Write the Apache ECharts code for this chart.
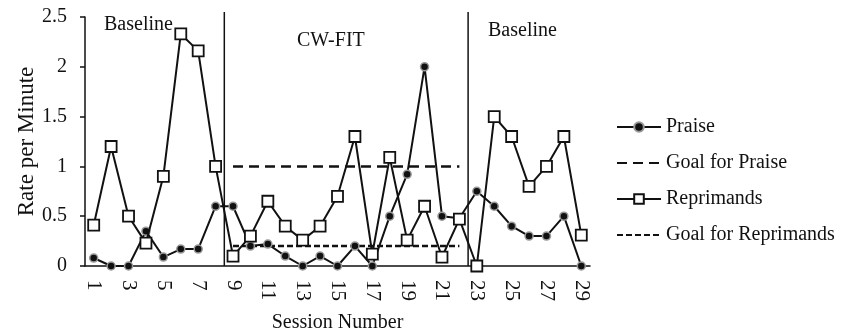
<!DOCTYPE html>
<html>
<head>
<meta charset="utf-8">
<script src="https://cdn.jsdelivr.net/npm/echarts@6/dist/echarts.min.js"></script>
<style>
  html, body { margin: 0; padding: 0; background: #fff; }
  #rateChart { width: 853px; height: 333px; }
</style>
</head>
<body>
<div id="rateChart"></div>
<script>
// sessions 1..29
var sessions = [];
for (var i = 1; i <= 29; i++) sessions.push(String(i));

var praise = [0.08, 0, 0, 0.35, 0.09, 0.17, 0.17, 0.6,
  0.6, 0.2, 0.22, 0.1, 0, 0.1, 0, 0.2, 0, 0.5, 0.92, 2.0, 0.5, 0.48,
  0.75, 0.6, 0.4, 0.3, 0.3, 0.5, 0];
var reprimands = [0.41, 1.2, 0.5, 0.23, 0.9, 2.33, 2.16, 1.0,
  0.1, 0.3, 0.65, 0.4, 0.26, 0.4, 0.7, 1.3, 0.12, 1.09, 0.26, 0.6, 0.09, 0.47,
  0, 1.5, 1.3, 0.8, 1.0, 1.3, 0.31];
// goals only during CW-FIT (sessions 9-22)
var goalPraise = [null, null, null, null, null, null, null, null,
  1, 1, 1, 1, 1, 1, 1, 1, 1, 1, 1, 1, 1, 1,
  null, null, null, null, null, null, null];
var goalReprimands = [null, null, null, null, null, null, null, null,
  0.2, 0.2, 0.2, 0.2, 0.2, 0.2, 0.2, 0.2, 0.2, 0.2, 0.2, 0.2, 0.2, 0.2,
  null, null, null, null, null, null, null];
var phaseChanges = [8, 22]; // boundaries after session 8 and 22
var phaseNames = ['Baseline', 'CW-FIT', 'Baseline'];

var font = 'Liberation Serif';
var ink = '#111';

var chart = echarts.init(document.getElementById('rateChart'));

var phaseSeries = phaseChanges.map(function (v) {
  return {
    type: 'line',
    xAxisIndex: 1,
    data: [[v, 0], [v, 2.55]],
    symbol: 'none',
    clip: false,
    silent: true,
    lineStyle: { color: ink, width: 1.5 },
    z: 1
  };
});

var options = {
  animation: false,
  textStyle: { fontFamily: font, color: ink },
  grid: { left: 85, right: 263, top: 17, bottom: 67, outerBoundsMode: 'none', containLabel: false },
  legend: {
    orient: 'vertical',
    left: 611,
    top: 112,
    itemWidth: 44,
    itemHeight: 12,
    itemGap: 16,
    data: [
      { name: 'Praise' },
      { name: 'Goal for Praise', itemStyle: { opacity: 0 } },
      { name: 'Reprimands' },
      { name: 'Goal for Reprimands', itemStyle: { opacity: 0 } }
    ],
    textStyle: { fontFamily: font, fontSize: 20, color: ink }
  },
  xAxis: [{
    type: 'category',
    data: sessions,
    boundaryGap: true,
    name: 'Session Number',
    nameLocation: 'middle',
    nameGap: 47,
    nameMoveOverlap: false,
    nameTextStyle: { fontFamily: font, fontSize: 20, color: ink },
    axisLine: { lineStyle: { color: ink, width: 1.5 } },
    axisTick: { alignWithLabel: true, interval: 0, length: 6, lineStyle: { color: ink, width: 1.5 } },
    axisLabel: { interval: 1, rotate: -90, margin: 14, fontFamily: font, fontSize: 21, color: ink },
    splitLine: { show: false }
  }, {
    type: 'value',
    min: 0,
    max: 29,
    show: false
  }],
  yAxis: {
    type: 'value',
    min: 0,
    max: 2.5,
    interval: 0.5,
    name: 'Rate per Minute',
    nameLocation: 'middle',
    nameGap: 47,
    nameMoveOverlap: false,
    nameTextStyle: { fontFamily: font, fontSize: 23, color: ink },
    axisLine: { show: true, lineStyle: { color: ink, width: 1.5 } },
    axisTick: { show: true, length: 5, lineStyle: { color: ink, width: 1.5 } },
    axisLabel: { margin: 18, fontFamily: font, fontSize: 20, color: ink },
    splitLine: { show: false }
  },
  graphic: [
    { type: 'text', left: 104, top: 15, style: { text: phaseNames[0], font: '20px "Liberation Serif"', fill: ink } },
    { type: 'text', left: 297, top: 31, style: { text: phaseNames[1], font: '20px "Liberation Serif"', fill: ink } },
    { type: 'text', left: 488, top: 21, style: { text: phaseNames[2], font: '20px "Liberation Serif"', fill: ink } }
  ],
  series: [
    {
      name: 'Praise',
      type: 'line',
      data: praise,
      symbol: 'circle',
      symbolSize: 8,
      lineStyle: { color: ink, width: 2 },
      itemStyle: { color: ink, borderColor: '#999', borderWidth: 1.5 },
      z: 3
    },
    {
      name: 'Goal for Praise',
      type: 'line',
      data: goalPraise,
      symbol: 'none',
      lineStyle: { color: ink, width: 2.5, type: [10, 6] },
      itemStyle: { color: ink },
      z: 2
    },
    {
      name: 'Reprimands',
      type: 'line',
      data: reprimands,
      symbol: 'rect',
      symbolSize: 11,
      lineStyle: { color: ink, width: 2 },
      itemStyle: { color: '#fff', borderColor: ink, borderWidth: 1.8 },
      z: 4
    },
    {
      name: 'Goal for Reprimands',
      type: 'line',
      data: goalReprimands,
      symbol: 'none',
      lineStyle: { color: ink, width: 2.5, type: [6, 3] },
      itemStyle: { color: ink },
      z: 2
    }
  ].concat(phaseSeries)
};

chart.setOption(options);
</script>
</body>
</html>
